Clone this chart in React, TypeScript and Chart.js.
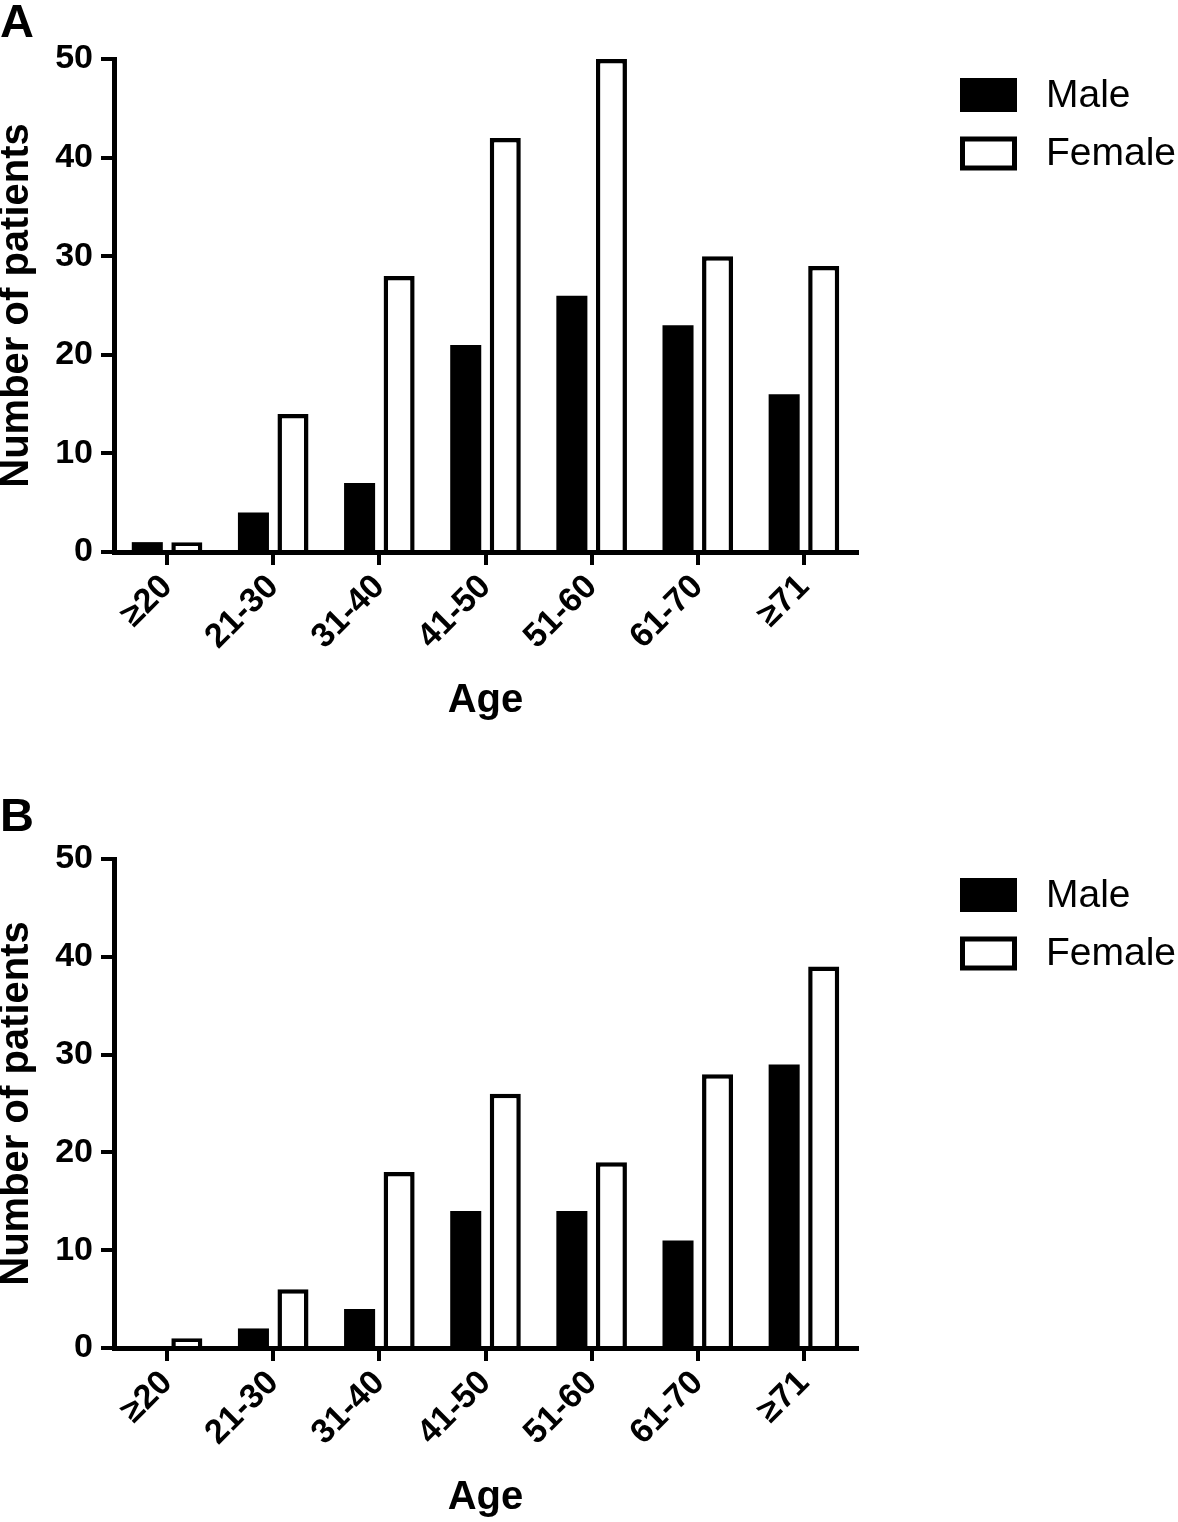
import { useEffect, useRef } from 'react';
import { Chart, registerables, type ChartConfiguration, type Plugin } from 'chart.js';

Chart.register(...registerables);

const ageGroups = ['≥20', '21-30', '31-40', '41-50', '51-60', '61-70', '≥71'];
const seriesNames = ['Male', 'Female'];
const maleA = [1, 4, 7, 21, 26, 23, 16];
const femaleA = [1, 14, 28, 42, 50, 30, 29];
const maleB = [0, 2, 4, 14, 14, 11, 29];
const femaleB = [1, 6, 18, 26, 19, 28, 39];
const yTicks = [0, 10, 20, 30, 40, 50];

const FONT = '"Liberation Sans", Arial, Helvetica, sans-serif';
const W = 1178;
const H = 761;

interface PanelLayout {
  top: number;
  xHeight: number;
  titlePad: number;
}

// legend drawn to the right of the plot, boxes + labels
const boxLegend: Plugin<'bar'> = {
  id: 'boxLegend',
  afterDraw(chart) {
    const { ctx, chartArea } = chart;
    ctx.save();
    ctx.font = `39px ${FONT}`;
    ctx.textBaseline = 'middle';
    ctx.textAlign = 'left';
    chart.data.datasets.forEach((ds, i) => {
      const x = 960;
      const y = chartArea.top + 19 + i * 58.5;
      const w = 57;
      const h = 34;
      const bw = 5;
      ctx.fillStyle = '#000';
      ctx.fillRect(x, y, w, h);
      ctx.fillStyle = ds.backgroundColor as string;
      ctx.fillRect(x + bw, y + bw, w - 2 * bw, h - 2 * bw);
      ctx.fillStyle = '#000';
      ctx.fillText(ds.label ?? '', 1046, y + h / 2 + 1);
    });
    ctx.restore();
  },
};

function makeConfig(male: number[], female: number[], p: PanelLayout): ChartConfiguration<'bar'> {
  const axisGrid = {
    display: true,
    drawOnChartArea: false,
    offset: false,
    color: '#000',
    lineWidth: 4,
    tickWidth: 4,
    tickColor: '#000',
    tickLength: 13,
  };
  const axisBorder = { display: true, color: '#000', width: 5 };
  return {
    type: 'bar',
    data: {
      labels: ageGroups,
      datasets: [
        {
          label: seriesNames[0],
          data: male,
          backgroundColor: '#000',
          borderColor: '#000',
          borderWidth: 0,
        },
        {
          label: seriesNames[1],
          data: female,
          backgroundColor: '#fff',
          borderColor: '#000',
          borderWidth: 4.5,
        },
      ],
    },
    options: {
      responsive: false,
      animation: false,
      devicePixelRatio: 1,
      layout: { padding: { top: p.top, left: 0, right: W - 857, bottom: 0 } },
      plugins: { legend: { display: false }, tooltip: { enabled: false } },
      datasets: { bar: { categoryPercentage: 0.745, barPercentage: 0.785 } },
      scales: {
        x: {
          offset: true,
          grid: axisGrid,
          border: axisBorder,
          ticks: {
            color: '#000',
            font: { family: FONT, size: 34, weight: 'bold' },
            minRotation: 45,
            maxRotation: 45,
            padding: 2,
            autoSkip: false,
          },
          title: {
            display: true,
            text: 'Age',
            color: '#000',
            font: { family: FONT, size: 40, weight: 'bold', lineHeight: 1 },
            padding: { top: 0, bottom: p.titlePad },
          },
          afterFit: (s) => {
            s.height = p.xHeight;
          },
        },
        y: {
          min: 0,
          max: 50,
          afterBuildTicks: (s) => {
            s.ticks = yTicks.map((value) => ({ value }));
          },
          grid: axisGrid,
          border: axisBorder,
          ticks: {
            color: '#000',
            font: { family: FONT, size: 34, weight: 'bold' },
            padding: 8,
          },
          title: {
            display: true,
            text: 'Number of patients',
            color: '#000',
            font: { family: FONT, size: 40, weight: 'bold', lineHeight: 0.85 },
            padding: 0,
          },
          afterFit: (s) => {
            s.width = 114;
          },
        },
      },
    },
    plugins: [boxLegend],
  };
}

function BarPanel({ male, female, layout }: { male: number[]; female: number[]; layout: PanelLayout }) {
  const canvasRef = useRef<HTMLCanvasElement | null>(null);

  useEffect(() => {
    const canvas = canvasRef.current;
    if (!canvas) return;
    const chart = new Chart(canvas, makeConfig(male, female, layout));
    return () => chart.destroy();
  }, [male, female, layout]);

  return (
    <canvas
      ref={canvasRef}
      width={W}
      height={H}
      style={{ display: 'block', width: W, height: H }}
    />
  );
}

const layoutA: PanelLayout = { top: 59, xHeight: H - 552, titlePad: 40 };
const layoutB: PanelLayout = { top: 98, xHeight: H - 587, titlePad: 4 };

const letterStyle = {
  position: 'absolute' as const,
  left: 0,
  fontFamily: FONT,
  fontWeight: 'bold' as const,
  fontSize: 47,
  lineHeight: '47px',
  color: '#000',
};

export default function App() {
  return (
    <div style={{ position: 'absolute', top: 0, left: 0, width: W, height: 2 * H, background: '#fff' }}>
      <div style={{ position: 'absolute', top: 0, left: 0 }}>
        <BarPanel male={maleA} female={femaleA} layout={layoutA} />
      </div>
      <div style={{ position: 'absolute', top: H, left: 0 }}>
        <BarPanel male={maleB} female={femaleB} layout={layoutB} />
      </div>
      <div style={{ ...letterStyle, top: -3 }}>A</div>
      <div style={{ ...letterStyle, top: 791 }}>B</div>
    </div>
  );
}
